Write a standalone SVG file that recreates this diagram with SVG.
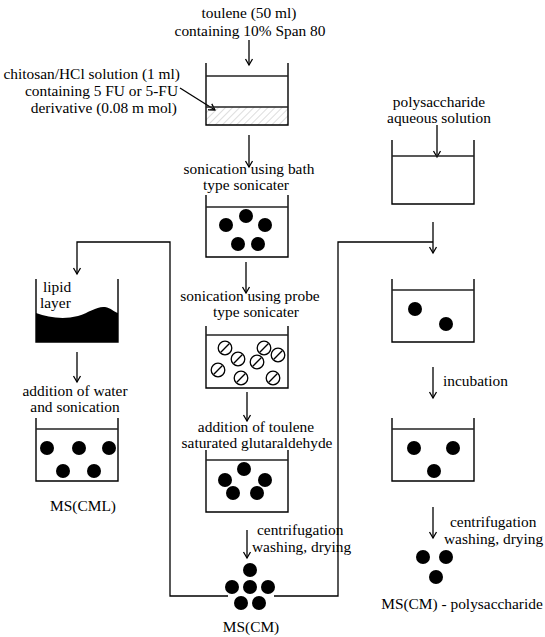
<svg xmlns="http://www.w3.org/2000/svg" width="545" height="637" viewBox="0 0 545 637" font-family="Liberation Serif, Times New Roman, serif" font-size="15.4">
<style>
.m{text-anchor:middle}
.e{text-anchor:end}
.w{fill:none;stroke:#000;stroke-width:1.4}
.l{stroke:#222;stroke-width:1.4}
.c{stroke:#000;stroke-width:1.3;fill:none}
.d{fill:#000}
.s{fill:#fff;stroke:#000;stroke-width:1.3}
</style>
<defs>
<marker id="ah" markerWidth="10" markerHeight="10" refX="7" refY="5" orient="auto" markerUnits="userSpaceOnUse">
<path d="M1,1.5 L7,5 L1,8.5" fill="none" stroke="#000" stroke-width="1.3"/>
</marker>
<pattern id="hatch" width="5" height="5" patternUnits="userSpaceOnUse" patternTransform="rotate(45)">
<line x1="0" y1="0" x2="0" y2="5" stroke="#aaa" stroke-width="0.8"/>
</pattern>
<g id="sc"><circle r="6.8" class="s"/><line x1="-4.2" y1="4.2" x2="4.2" y2="-4.2" stroke="#000" stroke-width="1.3"/></g>
</defs>

<g id="connectors" class="c">
<line x1="249" y1="40" x2="249" y2="65" marker-end="url(#ah)"/>
<line x1="180" y1="88" x2="215" y2="110" marker-end="url(#ah)"/>
<line x1="249" y1="135" x2="249" y2="167" marker-end="url(#ah)"/>
<line x1="246" y1="262" x2="246" y2="293" marker-end="url(#ah)"/>
<line x1="247" y1="392" x2="247" y2="421" marker-end="url(#ah)"/>
<line x1="247" y1="530" x2="247" y2="558" marker-end="url(#ah)"/>
<polyline points="228,596 170,596 170,242 77,242 77,274" marker-end="url(#ah)"/>
<line x1="77" y1="352" x2="77" y2="382" marker-end="url(#ah)"/>
<polyline points="274,596 338,596 338,242 433,242"/>
<line x1="433" y1="222" x2="433" y2="253" marker-end="url(#ah)"/>
<line x1="437" y1="125" x2="437" y2="157" marker-end="url(#ah)"/>
<line x1="433" y1="367" x2="433" y2="398" marker-end="url(#ah)"/>
<line x1="433" y1="507" x2="433" y2="538" marker-end="url(#ah)"/>
</g>

<g id="start">
<text class="m" x="249" y="18">toulene (50 ml)</text>
<text class="m" x="250" y="36">containing 10% Span 80</text>
<text class="e" x="180" y="79">chitosan/HCl solution (1 ml)</text>
<text class="e" x="178" y="96">containing 5 FU or 5-FU</text>
<text class="e" x="177" y="113">derivative (0.08 m mol)</text>
</g>

<g id="beaker1">
<rect x="206" y="107" width="82" height="18" fill="url(#hatch)"/>
<path class="w" d="M206,63 V125 H288 V63"/>
<line class="l" x1="206" y1="76" x2="288" y2="76"/>
<line class="l" x1="206" y1="107" x2="288" y2="107"/>
</g>

<g id="beaker2">
<text class="m" x="249" y="174">sonication using bath</text>
<text class="m" x="246" y="190">type sonicater</text>
<path class="w" d="M206,195 V257 H288 V195"/>
<line class="l" x1="206" y1="207" x2="288" y2="207"/>
<circle class="d" cx="246" cy="216" r="7"/>
<circle class="d" cx="226" cy="225" r="7"/>
<circle class="d" cx="265" cy="225" r="7"/>
<circle class="d" cx="238" cy="244" r="7"/>
<circle class="d" cx="258" cy="244" r="7"/>
</g>

<g id="beaker3">
<text class="m" x="250" y="301">sonication using probe</text>
<text class="m" x="256" y="317">type sonicater</text>
<path class="w" d="M206,326 V388 H288 V326"/>
<line class="l" x1="206" y1="335" x2="288" y2="335"/>
<use href="#sc" x="225" y="348"/>
<use href="#sc" x="238" y="359"/>
<use href="#sc" x="264" y="348"/>
<use href="#sc" x="278" y="355"/>
<use href="#sc" x="257" y="362"/>
<use href="#sc" x="218" y="370"/>
<use href="#sc" x="241" y="378"/>
<use href="#sc" x="273" y="378"/>
</g>

<g id="beaker4">
<text class="m" x="256" y="432">addition of  toulene</text>
<text class="m" x="257" y="448">saturated glutaraldehyde</text>
<path class="w" d="M206,450 V512 H288 V450"/>
<line class="l" x1="206" y1="460" x2="288" y2="460"/>
<circle class="d" cx="244" cy="469" r="7"/>
<circle class="d" cx="225" cy="480" r="7"/>
<circle class="d" cx="265" cy="480" r="7"/>
<circle class="d" cx="233" cy="493" r="7"/>
<circle class="d" cx="257" cy="493" r="7"/>
</g>

<g id="mscm">
<text x="257" y="535">centrifugation</text>
<text x="252" y="552">washing, drying</text>
<circle class="d" cx="250" cy="570" r="7"/>
<circle class="d" cx="232" cy="587" r="7"/>
<circle class="d" cx="250" cy="587" r="7"/>
<circle class="d" cx="268" cy="587" r="7"/>
<circle class="d" cx="241" cy="603" r="7"/>
<circle class="d" cx="259" cy="603" r="7"/>
<text class="m" x="251" y="632">MS(CM)</text>
</g>

<g id="lipid">
<path class="d" d="M36,313 C48,317 62,320 78,316 C90,312 97,306 105,307 C111,308 114,312 118,313 V342 H36 Z"/>
<path class="w" d="M36,279 V342 H118 V279"/>
<text x="43" y="292">lipid</text>
<text x="40" y="308">layer</text>
</g>

<g id="mscml">
<text class="m" x="75" y="396">addition of water</text>
<text class="m" x="75" y="412">and sonication</text>
<path class="w" d="M36,418 V481 H118 V418"/>
<line class="l" x1="36" y1="429" x2="118" y2="429"/>
<circle class="d" cx="47" cy="448" r="7"/>
<circle class="d" cx="79" cy="448" r="7"/>
<circle class="d" cx="109" cy="448" r="7"/>
<circle class="d" cx="63" cy="471" r="7"/>
<circle class="d" cx="94" cy="471" r="7"/>
<text class="m" x="83" y="511">MS(CML)</text>
</g>

<g id="poly">
<text class="m" x="439" y="107">polysaccharide</text>
<text class="m" x="439" y="123">aqueous solution</text>
<path class="w" d="M392,140 V204 H474 V140"/>
<line class="l" x1="392" y1="156" x2="474" y2="156"/>
</g>

<g id="beaker6">
<path class="w" d="M392,279 V342 H474 V279"/>
<line class="l" x1="392" y1="290" x2="474" y2="290"/>
<circle class="d" cx="415" cy="309" r="7"/>
<circle class="d" cx="446" cy="324" r="7"/>
<text x="443" y="386">incubation</text>
</g>

<g id="beaker7">
<path class="w" d="M392,418 V481 H474 V418"/>
<line class="l" x1="392" y1="429" x2="474" y2="429"/>
<circle class="d" cx="414" cy="448" r="7"/>
<circle class="d" cx="453" cy="448" r="7"/>
<circle class="d" cx="434" cy="471" r="7"/>
</g>

<g id="mscmpoly">
<text x="450" y="527">centrifugation</text>
<text x="444" y="544">washing, drying</text>
<circle class="d" cx="423" cy="557" r="7"/>
<circle class="d" cx="446" cy="557" r="7"/>
<circle class="d" cx="436" cy="577" r="7"/>
<text class="m" x="462" y="609">MS(CM) - polysaccharide</text>
</g>
</svg>
